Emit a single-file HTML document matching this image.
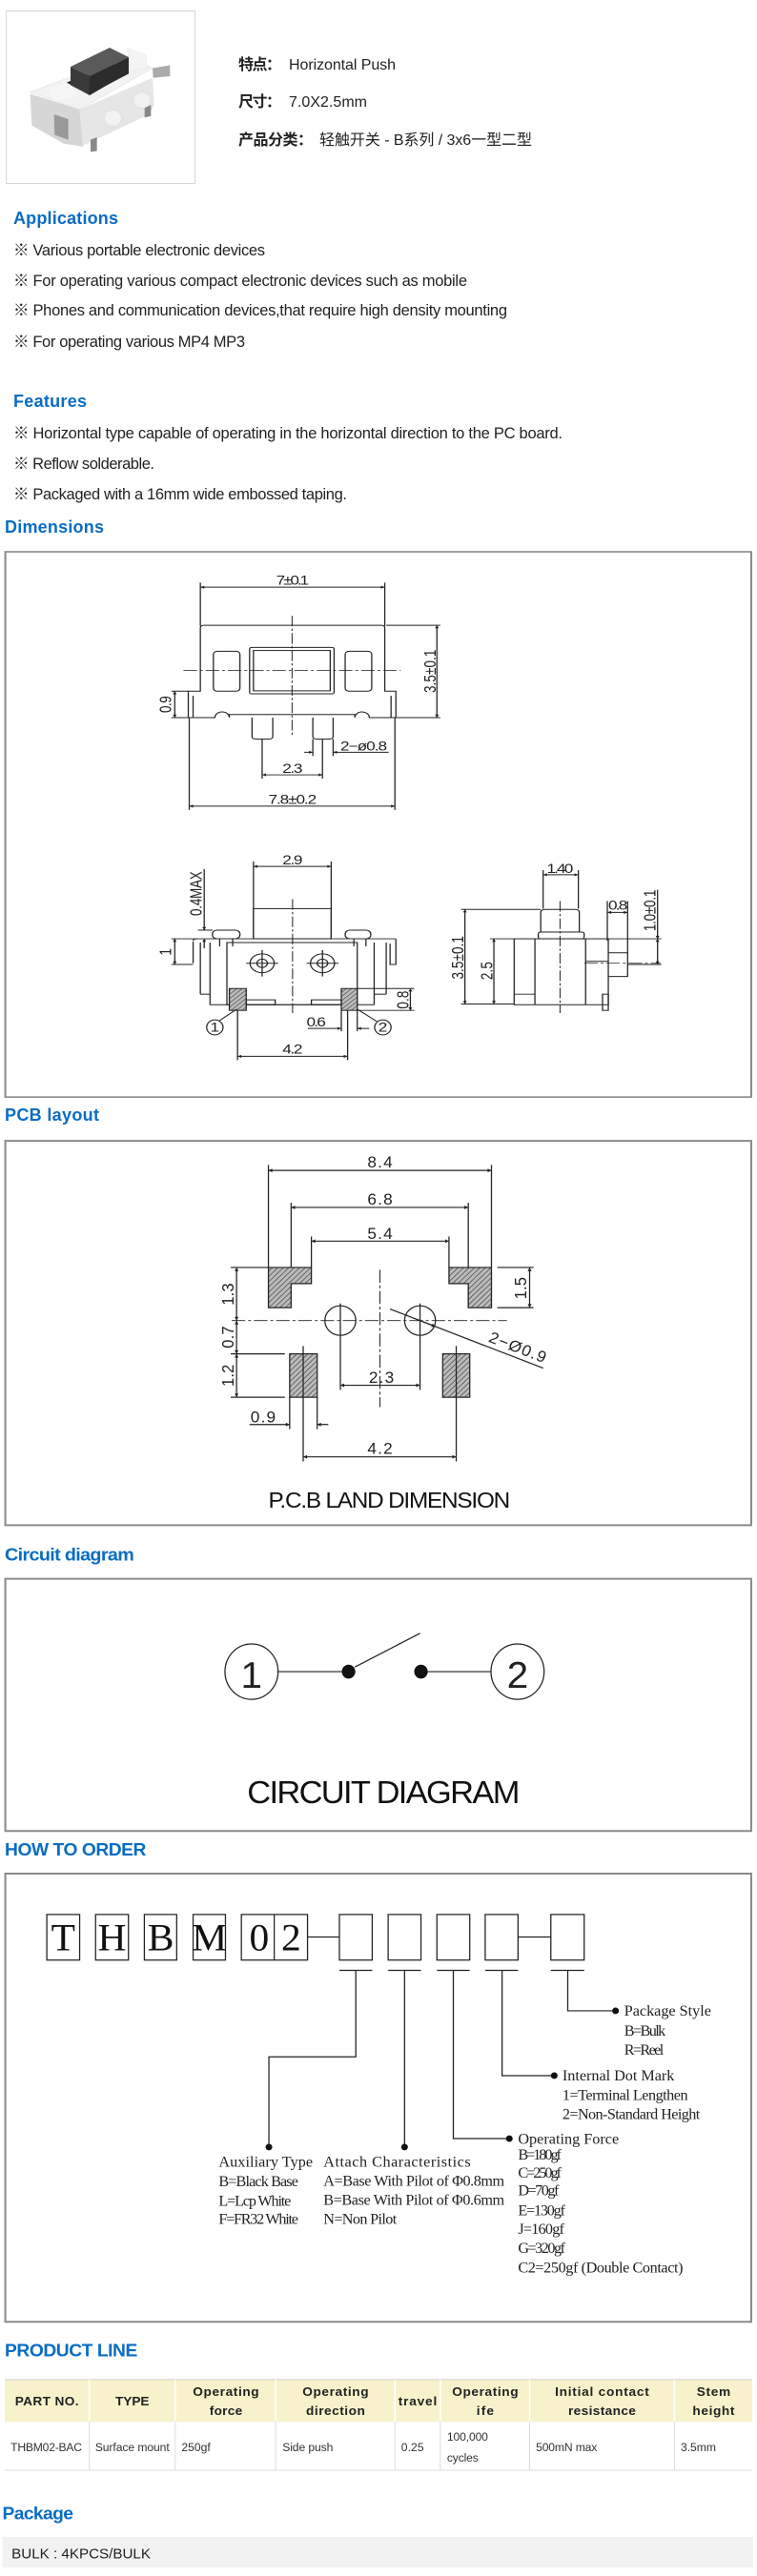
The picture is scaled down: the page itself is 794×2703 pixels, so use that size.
<!DOCTYPE html>
<html><head><meta charset="utf-8"><style>
html,body{margin:0;padding:0;background:#fff;}
svg{display:block}
text{font-family:"Liberation Sans","Noto Sans CJK SC",sans-serif;}
.l{stroke:#222;stroke-width:2.5;fill:none}
.c{stroke:#222;stroke-width:2;fill:none;stroke-dasharray:28 6 6 6}
.t{fill:#222;font-size:34px}
.h{fill:#0a6cc4;font-weight:bold}
.s{font-family:"Liberation Serif",serif;fill:#222;font-size:32px}
.hd{font-weight:bold;fill:#222;font-size:27px;text-anchor:middle}
.dt{fill:#333;font-size:24px}
.g{font-family:"Liberation Serif",serif;font-size:82px;fill:#111;text-anchor:middle}
</style></head><body>
<svg width="794" height="2703" viewBox="0 0 794 2703" xmlns="http://www.w3.org/2000/svg">
<defs>
<marker id="a" viewBox="0 0 10 10" refX="10" refY="5" markerWidth="16" markerHeight="8" markerUnits="userSpaceOnUse" orient="auto-start-reverse"><path d="M0,0L10,5L0,10z" fill="#222"/></marker>
<pattern id="hp" width="8" height="8" patternUnits="userSpaceOnUse" patternTransform="rotate(45)"><rect width="8" height="8" fill="#bbb"/><line x1="0" y1="0" x2="0" y2="8" stroke="#333" stroke-width="2.5"/></pattern>
</defs>

<text x="250" y="73" font-size="16" font-weight="bold" fill="#222" textLength="45">特点：</text>
<text x="303" y="73" font-size="16" fill="#222" textLength="112">Horizontal Push</text>
<text x="250" y="112" font-size="16" font-weight="bold" fill="#222" textLength="45">尺寸：</text>
<text x="303" y="112" font-size="16" fill="#222" textLength="82">7.0X2.5mm</text>
<text x="250" y="152" font-size="16" font-weight="bold" fill="#222" textLength="78">产品分类：</text>
<text x="335" y="152" font-size="16" fill="#222" textLength="223">轻触开关 - B系列 / 3x6一型二型</text>
<text class="h" x="14" y="235" font-size="18" textLength="110">Applications</text>
<g font-size="16.5" fill="#222">
<text x="14" y="268" textLength="264">※ Various portable electronic devices</text>
<text x="14" y="300" textLength="476">※ For operating various compact electronic devices such as mobile</text>
<text x="14" y="331" textLength="518">※ Phones and communication devices,that require high density mounting</text>
<text x="14" y="364" textLength="243">※ For operating various MP4 MP3</text>
<text x="14" y="460" textLength="576">※ Horizontal type capable of operating in the horizontal direction to the PC board.</text>
<text x="14" y="492" textLength="148">※ Reflow solderable.</text>
<text x="14" y="524" textLength="350">※ Packaged with a 16mm wide embossed taping.</text>
</g>
<text class="h" x="14" y="427" font-size="18" textLength="77">Features</text>
<text class="h" x="5" y="559" font-size="18" textLength="104">Dimensions</text>

<rect x="6.5" y="11.5" width="198" height="181" fill="#fff" stroke="#d8d8d8"/>
<svg x="0" y="0" width="210" height="200" viewBox="0 0 630 600">
<polygon points="95,290 400,175 480,215 250,345" fill="#f2f2f2" stroke="#ccc"/>
<polygon points="95,295 250,345 262,462 200,452 100,395" fill="#d6d6d6"/>
<polygon points="250,345 480,245 485,330 470,360 300,440 262,458" fill="#e6e6e6"/>
<polygon points="400,150 460,175 462,215 410,225" fill="#f4f4f4" stroke="#ddd"/>
<polygon points="150,280 215,260 245,300 170,320" fill="#f6f6f6"/>
<polygon points="170,360 215,375 215,440 172,425" fill="#999"/>
<polygon points="480,215 535,205 535,240 482,245" fill="#aaa"/>
<polygon points="210,260 345,200 405,228 282,300" fill="#222"/>
<polygon points="222,210 345,150 405,180 283,240" fill="#5a5a5a"/>
<polygon points="222,210 283,240 280,298 222,268" fill="#3a3a3a"/>
<polygon points="283,240 405,180 405,232 280,298" fill="#2c2c2c"/>
<ellipse cx="355" cy="372" rx="27" ry="25" fill="#f2f2f2" stroke="#ccc"/>
<ellipse cx="447" cy="316" rx="27" ry="25" fill="#f2f2f2" stroke="#ccc"/>
<polygon points="285,440 305,432 305,475 285,478" fill="#888"/>
<polygon points="455,340 475,330 475,365 455,370" fill="#888"/>
</svg>

<svg x="0" y="560" width="794" height="620" viewBox="0 0 1568 1568" preserveAspectRatio="none" overflow="visible">
<rect x="11" y="48" width="1545" height="1447" fill="none" stroke="#888" stroke-width="4"/>
<line class="l" x1="415" y1="130" x2="415" y2="245"/><line class="l" x1="797" y1="130" x2="797" y2="245"/>
<line class="l" x1="415" y1="142" x2="797" y2="142" marker-start="url(#a)" marker-end="url(#a)"/>
<text class="t" x="606" y="135" text-anchor="middle" textLength="68">7±0.1</text>
<path class="l" d="M415,418 V250 Q415,243 422,243 H790 Q797,243 797,250 V418 H820 V488 H765 A15,15 0 0 0 735,488 V480 H475 V488 A15,15 0 0 0 445,488 H390 V418 Z"/>
<line class="l" x1="400" y1="430" x2="400" y2="488"/><line class="l" x1="810" y1="430" x2="810" y2="488"/>
<rect class="l" x="442" y="312" width="55" height="106" rx="8"/>
<rect class="l" x="517" y="302" width="175" height="123" rx="4"/>
<rect class="l" x="525" y="310" width="159" height="107"/>
<rect class="l" x="715" y="312" width="55" height="106" rx="8"/>
<line class="c" x1="380" y1="363" x2="830" y2="363"/><line class="c" x1="605" y1="218" x2="605" y2="540"/>
<path class="l" d="M522,488 V538 Q522,545 530,545 H557 Q565,545 565,538 V488"/>
<path class="l" d="M648,488 V538 Q648,545 656,545 H682 Q690,545 690,538 V488"/>
<line class="l" x1="355" y1="418" x2="390" y2="418"/><line class="l" x1="355" y1="488" x2="390" y2="488"/>
<line class="l" x1="362" y1="418" x2="362" y2="488" marker-start="url(#a)" marker-end="url(#a)"/>
<text class="t" transform="translate(354,453) rotate(-90)" text-anchor="middle" textLength="45">0.9</text>
<line class="l" x1="800" y1="243" x2="912" y2="243"/><line class="l" x1="820" y1="488" x2="912" y2="488"/>
<line class="l" x1="905" y1="243" x2="905" y2="488" marker-start="url(#a)" marker-end="url(#a)"/>
<text class="t" transform="translate(902,365) rotate(-90)" text-anchor="middle" textLength="115">3.5±0.1</text>
<line class="l" x1="648" y1="545" x2="648" y2="590"/><line class="l" x1="690" y1="545" x2="690" y2="590"/>
<line class="l" x1="630" y1="580" x2="648" y2="580" marker-end="url(#a)"/>
<line class="l" x1="805" y1="580" x2="690" y2="580" marker-end="url(#a)"/>
<text class="t" x="705" y="575" textLength="97">2−ø0.8</text>
<line class="l" x1="543" y1="545" x2="543" y2="650"/><line class="l" x1="668" y1="545" x2="668" y2="650"/>
<line class="l" x1="543" y1="640" x2="668" y2="640" marker-start="url(#a)" marker-end="url(#a)"/>
<text class="t" x="606" y="635" text-anchor="middle" textLength="42">2.3</text>
<line class="l" x1="392" y1="488" x2="392" y2="733"/><line class="l" x1="818" y1="488" x2="818" y2="733"/>
<line class="l" x1="392" y1="723" x2="818" y2="723" marker-start="url(#a)" marker-end="url(#a)"/>
<text class="t" x="606" y="717" text-anchor="middle" textLength="100">7.8±0.2</text>
<line class="l" x1="525" y1="870" x2="525" y2="1075"/><line class="l" x1="686" y1="870" x2="686" y2="1075"/>
<line class="l" x1="525" y1="883" x2="686" y2="883" marker-start="url(#a)" marker-end="url(#a)"/>
<text class="t" x="606" y="877" text-anchor="middle" textLength="42">2.9</text>
<rect class="l" x="525" y="995" width="161" height="80"/>
<line class="c" x1="606" y1="970" x2="606" y2="1272"/>
<rect class="l" x="440" y="1052" width="57" height="23" rx="10"/><rect class="l" x="715" y="1052" width="53" height="23" rx="10"/>
<line class="l" x1="400" y1="1075" x2="820" y2="1075"/>
<path class="l" d="M400,1080 Q400,1075 410,1075 M400,1082 V1140 M820,1075 V1143 H808 V1088"/>
<rect class="l" x="470" y="1085" width="270" height="165"/>
<line class="l" x1="415" y1="1085" x2="415" y2="1222"/><line class="l" x1="435" y1="1085" x2="435" y2="1250"/>
<line class="l" x1="800" y1="1085" x2="800" y2="1222"/><line class="l" x1="775" y1="1085" x2="775" y2="1250"/>
<line class="l" x1="415" y1="1222" x2="435" y2="1222"/><line class="l" x1="775" y1="1222" x2="800" y2="1222"/>
<line class="l" x1="435" y1="1250" x2="775" y2="1250"/>
<line class="l" x1="455" y1="1075" x2="455" y2="1095"/><line class="l" x1="482" y1="1075" x2="482" y2="1095"/>
<line class="l" x1="733" y1="1075" x2="733" y2="1095"/><line class="l" x1="758" y1="1075" x2="758" y2="1095"/>
<g class="l"><circle cx="543" cy="1140" r="25"/><circle cx="543" cy="1140" r="11"/><circle cx="668" cy="1140" r="25"/><circle cx="668" cy="1140" r="11"/></g>
<path class="l" d="M510,1140 H576 M543,1105 V1175 M635,1140 H701 M668,1105 V1175"/>
<rect x="475" y="1207" width="35" height="58" fill="url(#hp)" stroke="#222" stroke-width="2.5"/>
<rect x="707" y="1207" width="33" height="58" fill="url(#hp)" stroke="#222" stroke-width="2.5"/>
<rect class="l" x="510" y="1237" width="60" height="13"/><rect class="l" x="645" y="1237" width="62" height="13"/>
<line class="l" x1="423" y1="890" x2="423" y2="1052" marker-end="url(#a)"/><line class="l" x1="410" y1="1052" x2="440" y2="1052"/>
<line class="l" x1="423" y1="1100" x2="423" y2="1075" marker-end="url(#a)"/>
<text class="t" transform="translate(418,955) rotate(-90)" text-anchor="middle" textLength="118">0.4MAX</text>
<line class="l" x1="355" y1="1075" x2="400" y2="1075"/><line class="l" x1="355" y1="1143" x2="400" y2="1143"/>
<line class="l" x1="362" y1="1075" x2="362" y2="1143" marker-start="url(#a)" marker-end="url(#a)"/>
<text class="t" transform="translate(354,1110) rotate(-90)" text-anchor="middle">1</text>
<line class="l" x1="740" y1="1207" x2="858" y2="1207"/><line class="l" x1="740" y1="1265" x2="858" y2="1265"/>
<line class="l" x1="850" y1="1207" x2="850" y2="1265" marker-start="url(#a)" marker-end="url(#a)"/>
<text class="t" transform="translate(846,1237) rotate(-90)" text-anchor="middle" textLength="48">0.8</text>
<ellipse class="l" cx="445" cy="1310" rx="17" ry="20"/><text class="t" x="445" y="1322" text-anchor="middle" font-size="30">1</text>
<line class="l" x1="455" y1="1292" x2="490" y2="1262"/>
<ellipse class="l" cx="793" cy="1310" rx="17" ry="20"/><text class="t" x="793" y="1322" text-anchor="middle" font-size="30">2</text>
<line class="l" x1="780" y1="1294" x2="740" y2="1262"/>
<line class="l" x1="707" y1="1265" x2="707" y2="1320"/><line class="l" x1="740" y1="1265" x2="740" y2="1320"/>
<line class="l" x1="638" y1="1313" x2="707" y2="1313" marker-end="url(#a)"/><line class="l" x1="765" y1="1313" x2="740" y2="1313" marker-end="url(#a)"/>
<text class="t" x="655" y="1307" text-anchor="middle" textLength="40">0.6</text>
<line class="l" x1="492" y1="1265" x2="492" y2="1397"/><line class="l" x1="720" y1="1265" x2="720" y2="1397"/>
<line class="l" x1="492" y1="1387" x2="720" y2="1387" marker-start="url(#a)" marker-end="url(#a)"/>
<text class="t" x="606" y="1380" text-anchor="middle" textLength="42">4.2</text>
<line class="l" x1="1125" y1="893" x2="1125" y2="995"/><line class="l" x1="1198" y1="893" x2="1198" y2="995"/>
<line class="l" x1="1125" y1="905" x2="1198" y2="905" marker-start="url(#a)" marker-end="url(#a)"/>
<text class="t" x="1160" y="900" text-anchor="middle" textLength="55">1.40</text>
<path class="l" d="M1120,1057 V1005 Q1120,997 1130,997 H1190 Q1200,997 1200,1005 V1057"/>
<rect class="l" x="1115" y="1057" width="95" height="18" rx="5"/>
<rect class="l" x="1065" y="1075" width="195" height="175"/>
<line class="l" x1="1108" y1="1075" x2="1108" y2="1250"/><line class="l" x1="1213" y1="1075" x2="1213" y2="1250"/>
<line class="l" x1="1065" y1="1222" x2="1108" y2="1222"/>
<rect class="l" x="1248" y="1222" width="12" height="43"/>
<path class="l" d="M1213,1135 H1260 M1260,1112 H1300 V1175 H1260"/>
<line class="c" x1="1160" y1="975" x2="1160" y2="1272"/><line class="c" x1="1210" y1="1140" x2="1368" y2="1140"/>
<line class="l" x1="955" y1="997" x2="1120" y2="997"/><line class="l" x1="955" y1="1248" x2="1065" y2="1248"/>
<line class="l" x1="963" y1="997" x2="963" y2="1248" marker-start="url(#a)" marker-end="url(#a)"/>
<text class="t" transform="translate(960,1125) rotate(-90)" text-anchor="middle" textLength="115">3.5±0.1</text>
<line class="l" x1="1015" y1="1075" x2="1065" y2="1075"/>
<line class="l" x1="1023" y1="1075" x2="1023" y2="1248" marker-start="url(#a)" marker-end="url(#a)"/>
<text class="t" transform="translate(1020,1160) rotate(-90)" text-anchor="middle" textLength="48">2.5</text>
<line class="l" x1="1258" y1="975" x2="1258" y2="1080"/><line class="l" x1="1300" y1="975" x2="1300" y2="1112"/>
<line class="l" x1="1258" y1="1005" x2="1300" y2="1005" marker-start="url(#a)" marker-end="url(#a)"/>
<text class="t" x="1280" y="998" text-anchor="middle" textLength="40">0.8</text>
<line class="l" x1="1260" y1="1075" x2="1370" y2="1075"/><line class="l" x1="1300" y1="1143" x2="1370" y2="1143"/>
<line class="l" x1="1362" y1="945" x2="1362" y2="1075" marker-end="url(#a)"/>
<line class="l" x1="1362" y1="1075" x2="1362" y2="1143" marker-start="url(#a)" marker-end="url(#a)"/>
<text class="t" transform="translate(1358,1000) rotate(-90)" text-anchor="middle" textLength="110">1.0±0.1</text>
</svg>
<text class="h" x="5" y="1176" font-size="18" textLength="99">PCB layout</text>

<svg x="0" y="1170" width="794" height="760" viewBox="0 0 1568 1568" preserveAspectRatio="none" overflow="visible">
<rect x="11" y="56" width="1545" height="832" fill="none" stroke="#888" stroke-width="4"/>
<g class="t" font-size="38">
<line class="l" x1="556" y1="108" x2="556" y2="330"/><line class="l" x1="1018" y1="108" x2="1018" y2="330"/>
<line class="l" x1="556" y1="120" x2="1018" y2="120" marker-start="url(#a)" marker-end="url(#a)"/>
<text x="787" y="113" text-anchor="middle" textLength="52">8.4</text>
<line class="l" x1="603" y1="190" x2="603" y2="350"/><line class="l" x1="970" y1="190" x2="970" y2="417"/>
<line class="l" x1="603" y1="200" x2="970" y2="200" marker-start="url(#a)" marker-end="url(#a)"/>
<text x="787" y="194" text-anchor="middle" textLength="52">6.8</text>
<line class="l" x1="645" y1="263" x2="645" y2="330"/><line class="l" x1="930" y1="263" x2="930" y2="330"/>
<line class="l" x1="645" y1="273" x2="930" y2="273" marker-start="url(#a)" marker-end="url(#a)"/>
<text x="787" y="268" text-anchor="middle" textLength="52">5.4</text>
</g>
<path d="M556,330 H645 V365 H603 V417 H556 Z" fill="url(#hp)" stroke="#222" stroke-width="2.5"/>
<path d="M930,330 H1018 V417 H970 V365 H930 Z" fill="url(#hp)" stroke="#222" stroke-width="2.5"/>
<rect x="600" y="517" width="57" height="94" fill="url(#hp)" stroke="#222" stroke-width="2.5"/>
<rect x="917" y="517" width="56" height="94" fill="url(#hp)" stroke="#222" stroke-width="2.5"/>
<line class="l" x1="628" y1="500" x2="628" y2="750"/><line class="l" x1="945" y1="500" x2="945" y2="750"/>
<g class="l"><circle cx="705" cy="445" r="32"/><circle cx="870" cy="445" r="32"/></g>
<path class="l" d="M705,408 V478 M870,408 V478"/>
<line class="c" x1="480" y1="445" x2="1050" y2="445"/><line class="c" x1="787" y1="335" x2="787" y2="632"/>
<line class="l" x1="478" y1="330" x2="556" y2="330"/><line class="l" x1="478" y1="517" x2="590" y2="517"/><line class="l" x1="478" y1="611" x2="590" y2="611"/>
<line class="l" x1="490" y1="330" x2="490" y2="445" marker-start="url(#a)" marker-end="url(#a)"/>
<line class="l" x1="490" y1="445" x2="490" y2="517" marker-start="url(#a)" marker-end="url(#a)"/>
<line class="l" x1="490" y1="517" x2="490" y2="611" marker-start="url(#a)" marker-end="url(#a)"/>
<g class="t" font-size="38">
<text transform="translate(484,388) rotate(-90)" text-anchor="middle" textLength="48">1.3</text>
<text transform="translate(484,481) rotate(-90)" text-anchor="middle" textLength="48">0.7</text>
<text transform="translate(484,564) rotate(-90)" text-anchor="middle" textLength="48">1.2</text>
<text transform="translate(1090,375) rotate(-90)" text-anchor="middle" textLength="48">1.5</text>
<text transform="translate(1010,490) rotate(22)" textLength="125">2−Ø0.9</text>
<text x="790" y="580" text-anchor="middle" textLength="52">2.3</text>
<text x="545" y="665" text-anchor="middle" textLength="52">0.9</text>
<text x="787" y="733" text-anchor="middle" textLength="52">4.2</text>
</g>
<line class="l" x1="1030" y1="330" x2="1105" y2="330"/><line class="l" x1="1030" y1="417" x2="1105" y2="417"/>
<line class="l" x1="1097" y1="330" x2="1097" y2="417" marker-start="url(#a)" marker-end="url(#a)"/>
<line class="l" x1="808" y1="420" x2="1125" y2="548"/><line class="l" x1="860" y1="441" x2="902" y2="458" marker-end="url(#a)"/>
<line class="l" x1="705" y1="478" x2="705" y2="595"/><line class="l" x1="870" y1="478" x2="870" y2="595"/>
<line class="l" x1="705" y1="585" x2="870" y2="585" marker-start="url(#a)" marker-end="url(#a)"/>
<line class="l" x1="600" y1="611" x2="600" y2="680"/><line class="l" x1="657" y1="611" x2="657" y2="680"/>
<line class="l" x1="517" y1="670" x2="600" y2="670" marker-end="url(#a)"/><line class="l" x1="680" y1="670" x2="657" y2="670" marker-end="url(#a)"/>
<line class="l" x1="628" y1="740" x2="945" y2="740" marker-start="url(#a)" marker-end="url(#a)"/>
<text x="556" y="850" font-size="48" fill="#111" textLength="501">P.C.B LAND DIMENSION</text>
<text class="h" x="10" y="965" font-size="39" textLength="268">Circuit diagram</text>
<rect x="11" y="1004" width="1545" height="546" fill="none" stroke="#888" stroke-width="4"/>
<ellipse class="l" cx="521" cy="1205" rx="55" ry="60"/>
<text x="521" y="1240" font-size="80" fill="#222" text-anchor="middle" textLength="22">1</text>
<ellipse class="l" cx="1072" cy="1205" rx="55" ry="60"/>
<text x="1072" y="1240" font-size="80" fill="#222" text-anchor="middle" textLength="50">2</text>
<line class="l" x1="577" y1="1205" x2="722" y2="1205"/>
<ellipse cx="722" cy="1205" rx="14" ry="15" fill="#111"/>
<line class="l" x1="735" y1="1195" x2="870" y2="1122"/>
<ellipse cx="872" cy="1205" rx="14" ry="15" fill="#111"/>
<line class="l" x1="885" y1="1205" x2="1018" y2="1205"/>
<text x="512" y="1490" font-size="68" fill="#111" textLength="565">CIRCUIT DIAGRAM</text>
</svg>

<svg x="0" y="1930" width="794" height="773" viewBox="0 0 1568 1568" preserveAspectRatio="none" overflow="visible">
<text class="h" x="10" y="35" font-size="38" textLength="293">HOW TO ORDER</text>
<rect x="11" y="73" width="1545" height="954" fill="none" stroke="#888" stroke-width="4"/>
<g class="l">
<rect x="97" y="160" width="68" height="97"/><rect x="198" y="160" width="68" height="97"/>
<rect x="299" y="160" width="67" height="97"/><rect x="400" y="160" width="67" height="97"/>
<rect x="500" y="160" width="137" height="97"/><line x1="568" y1="160" x2="568" y2="257"/>
<line x1="637" y1="208" x2="703" y2="208"/>
<rect x="703" y="160" width="68" height="97"/><rect x="804" y="160" width="68" height="97"/>
<rect x="905" y="160" width="68" height="97"/><rect x="1005" y="160" width="68" height="97"/>
<line x1="1073" y1="208" x2="1141" y2="208"/><rect x="1141" y="160" width="69" height="97"/>
<path d="M703,279 H771 M804,279 H872 M905,279 H973 M1005,279 H1073 M1141,279 H1210"/>
<path d="M737,279 V463 H557 V655 M838,279 V655 M939,279 V637 H1055 M1040,279 V503 H1148 M1176,279 V365 H1275"/>
</g>
<g fill="#111"><circle cx="557" cy="655" r="7"/><circle cx="838" cy="655" r="7"/><circle cx="1055" cy="637" r="7"/><circle cx="1148" cy="503" r="7"/><circle cx="1275" cy="365" r="7"/></g>
<g>
<text class="g" x="131" y="236">T</text><text class="g" x="232" y="236">H</text><text class="g" x="333" y="236">B</text><text class="g" x="434" y="236">M</text><text class="g" x="537" y="236">0</text><text class="g" x="603" y="236">2</text>
</g>
<g>
<text class="s" x="1293" y="375" textLength="180">Package Style</text>
<text class="s" x="1293" y="418" textLength="86">B=Bulk</text>
<text class="s" x="1293" y="458" textLength="82">R=Reel</text>
<text class="s" x="1165" y="513" textLength="232">Internal Dot Mark</text>
<text class="s" x="1165" y="555" textLength="260">1=Terminal Lengthen</text>
<text class="s" x="1165" y="595" textLength="285">2=Non-Standard Height</text>
<text class="s" x="1073" y="648" textLength="209">Operating Force</text>
<text class="s" x="1073" y="682" textLength="90">B=180gf</text>
<text class="s" x="1073" y="720" textLength="90">C=250gf</text>
<text class="s" x="1073" y="758" textLength="85">D=70gf</text>
<text class="s" x="1073" y="800" textLength="98">E=130gf</text>
<text class="s" x="1073" y="840" textLength="96">J=160gf</text>
<text class="s" x="1073" y="880" textLength="98">G=320gf</text>
<text class="s" x="1073" y="922" textLength="342">C2=250gf (Double Contact)</text>
<text class="s" x="453" y="697" textLength="195">Auxiliary Type</text>
<text class="s" x="453" y="738" textLength="165">B=Black Base</text>
<text class="s" x="453" y="780" textLength="150">L=Lcp White</text>
<text class="s" x="453" y="818" textLength="165">F=FR32 White</text>
<text class="s" x="670" y="697" textLength="305">Attach Characteristics</text>
<text class="s" x="670" y="737" textLength="375">A=Base With Pilot of Φ0.8mm</text>
<text class="s" x="670" y="778" textLength="375">B=Base With Pilot of Φ0.6mm</text>
<text class="s" x="670" y="818" textLength="152">N=Non Pilot</text>
</g>
<text class="h" x="10" y="1100" font-size="38" textLength="275">PRODUCT LINE</text>
<rect x="10" y="1150" width="1548" height="90" fill="#f7f2cc"/>
<line x1="10" y1="1150" x2="1558" y2="1150" stroke="#ccc" stroke-width="2"/>
<g stroke="#fff" stroke-width="3"><path d="M185,1150V1240M363,1150V1240M571,1150V1240M818,1150V1240M912,1150V1240M1097,1150V1240M1397,1150V1240"/></g>
<g stroke="#ddd" stroke-width="2"><path d="M185,1240V1343M363,1240V1343M571,1240V1343M818,1240V1343M912,1240V1343M1097,1240V1343M1397,1240V1343M10,1343H1558"/></g>
<g class="hd">
<text x="97" y="1205" textLength="132">PART NO.</text>
<text x="274" y="1205" textLength="70">TYPE</text>
<text x="468" y="1185" textLength="137">Operating</text><text x="468" y="1225" textLength="68">force</text>
<text x="695" y="1185" textLength="137">Operating</text><text x="695" y="1225" textLength="122">direction</text>
<text x="865" y="1205" textLength="80">travel</text>
<text x="1005" y="1185" textLength="137">Operating</text><text x="1005" y="1225" textLength="36">ife</text>
<text x="1247" y="1185" textLength="195">Initial contact</text><text x="1247" y="1225" textLength="140">resistance</text>
<text x="1478" y="1185" textLength="70">Stem</text><text x="1478" y="1225" textLength="87">height</text>
</g>
<g class="dt">
<text x="22" y="1302" textLength="148">THBM02-BAC</text>
<text x="197" y="1302" textLength="154">Surface mount</text>
<text x="376" y="1302" textLength="60">250gf</text>
<text x="585" y="1302" textLength="105">Side push</text>
<text x="831" y="1302" textLength="47">0.25</text>
<text x="926" y="1280" textLength="85">100,000</text>
<text x="926" y="1325" textLength="65">cycles</text>
<text x="1110" y="1302" textLength="127">500mN max</text>
<text x="1410" y="1302" textLength="73">3.5mm</text>
</g>
<text class="h" x="5" y="1447" font-size="38" textLength="147">Package</text>
<rect x="5" y="1485" width="1555" height="65" fill="#f2f2f2"/>
<text x="24" y="1530" font-size="30" fill="#222" textLength="288">BULK : 4KPCS/BULK</text>
</svg>
</svg>
</body></html>
